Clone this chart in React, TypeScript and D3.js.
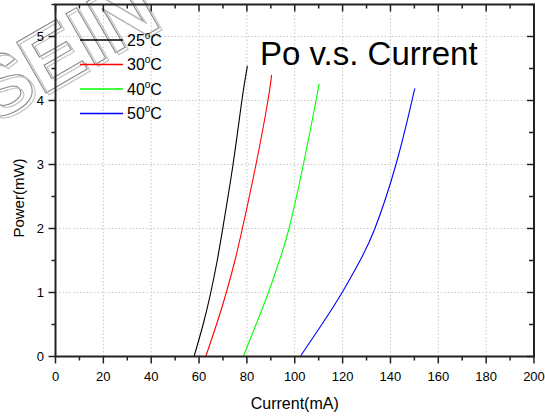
import React from "react";
import * as d3 from "d3";

const xTicks = [0, 20, 40, 60, 80, 100, 120, 140, 160, 180, 200];
const yTicks = [0, 1, 2, 3, 4, 5];
const legendLabels = ["25", "30", "40", "50"];
const seriesColors = ["#000000", "#ff0000", "#00ff00", "#0000ff"];

const current25 = [57.9, 61.7, 64.9, 67.6, 69.9, 74.2, 77.9, 80.2];
const power25 = [0, 0.5, 1, 1.5, 2, 3, 4, 4.54];
const current30 = [62.8, 67.3, 71.4, 75.0, 78.1, 83.8, 88.8, 90.3];
const power30 = [0, 0.5, 1, 1.5, 2, 3, 4, 4.4];
const current40 = [78.5, 83.8, 89.0, 93.6, 97.6, 103.6, 108.9, 110.2];
const power40 = [0, 0.5, 1, 1.5, 2, 3, 4, 4.26];
const current50 = [102.3, 111.3, 119.8, 127.3, 133.5, 142.3, 149.0, 150.2];
const power50 = [0, 0.5, 1, 1.5, 2, 3, 4, 4.18];

const seriesCurrents = [current25, current30, current40, current50];
const seriesPowers = [power25, power30, power40, power50];

const W = 545, H = 416;
const L = 55.5, R = 534, T = 4.5, B = 356.5;
const FONT = "'Liberation Sans', Arial, sans-serif";

export default function App() {
  const x = d3.scaleLinear().domain([0, 200]).range([L, R]);
  const y = d3.scaleLinear().domain([0, 5.5]).range([B, T]);
  const line = d3
    .line<[number, number]>()
    .x((d) => x(d[0]))
    .y((d) => y(d[1]))
    .curve(d3.curveNatural);

  const xMinor = d3.range(0, 201, 10);
  const yMinor = d3.range(0, 5.51, 0.5);
  const axisColor = "#222";

  return (
    <svg
      width={W}
      height={H}
      style={{ position: "absolute", left: 0, top: 0, background: "#fff" }}
      fontFamily={FONT}
    >
      <rect x={0} y={0} width={W} height={H} fill="#fff" />
      {/* grid */}
      {xTicks.filter((t) => t > 0 && t < 200).map((t) => (
        <line key={"gx" + t} x1={x(t)} x2={x(t)} y1={T} y2={B} stroke="#c8c8c8" strokeDasharray="1.5,2" strokeWidth={1} />
      ))}
      {yTicks.filter((t) => t > 0).map((t) => (
        <line key={"gy" + t} x1={L} x2={R} y1={y(t)} y2={y(t)} stroke="#c8c8c8" strokeDasharray="1.5,2" strokeWidth={1} />
      ))}

      {/* watermark */}
      <g fill="none" strokeWidth={1.1}>
        <text transform="translate(-8,124) rotate(-30)" fontSize={85} fontFamily={FONT} fontWeight="bold" stroke="#8a8a8a">SEIN</text>
        <text transform="translate(-5,126) rotate(-30)" fontSize={85} fontFamily={FONT} fontWeight="bold" stroke="#c0c0c0">SEIN</text>
      </g>

      {/* series */}
      {seriesCurrents.map((cs, i) => (
        <path
          key={"s" + i}
          d={line(cs.map((c, j) => [c, seriesPowers[i][j]] as [number, number])) || ""}
          fill="none"
          stroke={seriesColors[i]}
          strokeWidth={1.1}
        />
      ))}

      {/* frame */}
      <rect x={L} y={T} width={R - L} height={B - T} fill="none" stroke={axisColor} strokeWidth={2} />

      {/* ticks */}
      {xMinor.map((t) => {
        const major = t % 20 === 0;
        return (
          <g key={"xt" + t}>
            <line x1={x(t)} x2={x(t)} y1={B} y2={B + (major ? 7 : 4)} stroke={axisColor} strokeWidth={1.5} />
            <line x1={x(t)} x2={x(t)} y1={T} y2={T + (major ? 7 : 4)} stroke={axisColor} strokeWidth={1.5} />
          </g>
        );
      })}
      {yMinor.map((t) => {
        const major = Math.abs(t - Math.round(t)) < 1e-6;
        return (
          <g key={"yt" + t}>
            <line x1={L - (major ? 7 : 4)} x2={L} y1={y(t)} y2={y(t)} stroke={axisColor} strokeWidth={1.5} />
            <line x1={R - (major ? 7 : 5)} x2={R} y1={y(t)} y2={y(t)} stroke={axisColor} strokeWidth={1.5} />
          </g>
        );
      })}

      {/* tick labels */}
      {xTicks.map((t) => (
        <text key={"xl" + t} x={x(t)} y={381} textAnchor="middle" fontSize={13} fill="#000">
          {t}
        </text>
      ))}
      {yTicks.map((t) => (
        <text key={"yl" + t} x={44} y={y(t) + 4.5} textAnchor="end" fontSize={13} fill="#000">
          {t}
        </text>
      ))}

      {/* axis titles */}
      <text x={(L + R) / 2} y={409} textAnchor="middle" fontSize={16} fill="#000">
        Current(mA)
      </text>
      <text transform={`translate(24,${198}) rotate(-90)`} textAnchor="middle" fontSize={15} fill="#000">
        Power(mW)
      </text>

      {/* title */}
      <text x={260} y={65} fontSize={33} fill="#000">
        Po v.s. Current
      </text>

      {/* legend */}
      {legendLabels.map((lab, i) => {
        const ly = 40 + i * 24.5;
        return (
          <g key={"lg" + i}>
            <line x1={80} x2={123} y1={ly} y2={ly} stroke={seriesColors[i]} strokeWidth={1.5} />
            <text x={127} y={ly + 5.5} fontSize={16} fill="#000">
              {lab}
              <tspan fontSize={10} dy={-7}>o</tspan>
              <tspan dy={7}>C</tspan>
            </text>
          </g>
        );
      })}
    </svg>
  );
}
